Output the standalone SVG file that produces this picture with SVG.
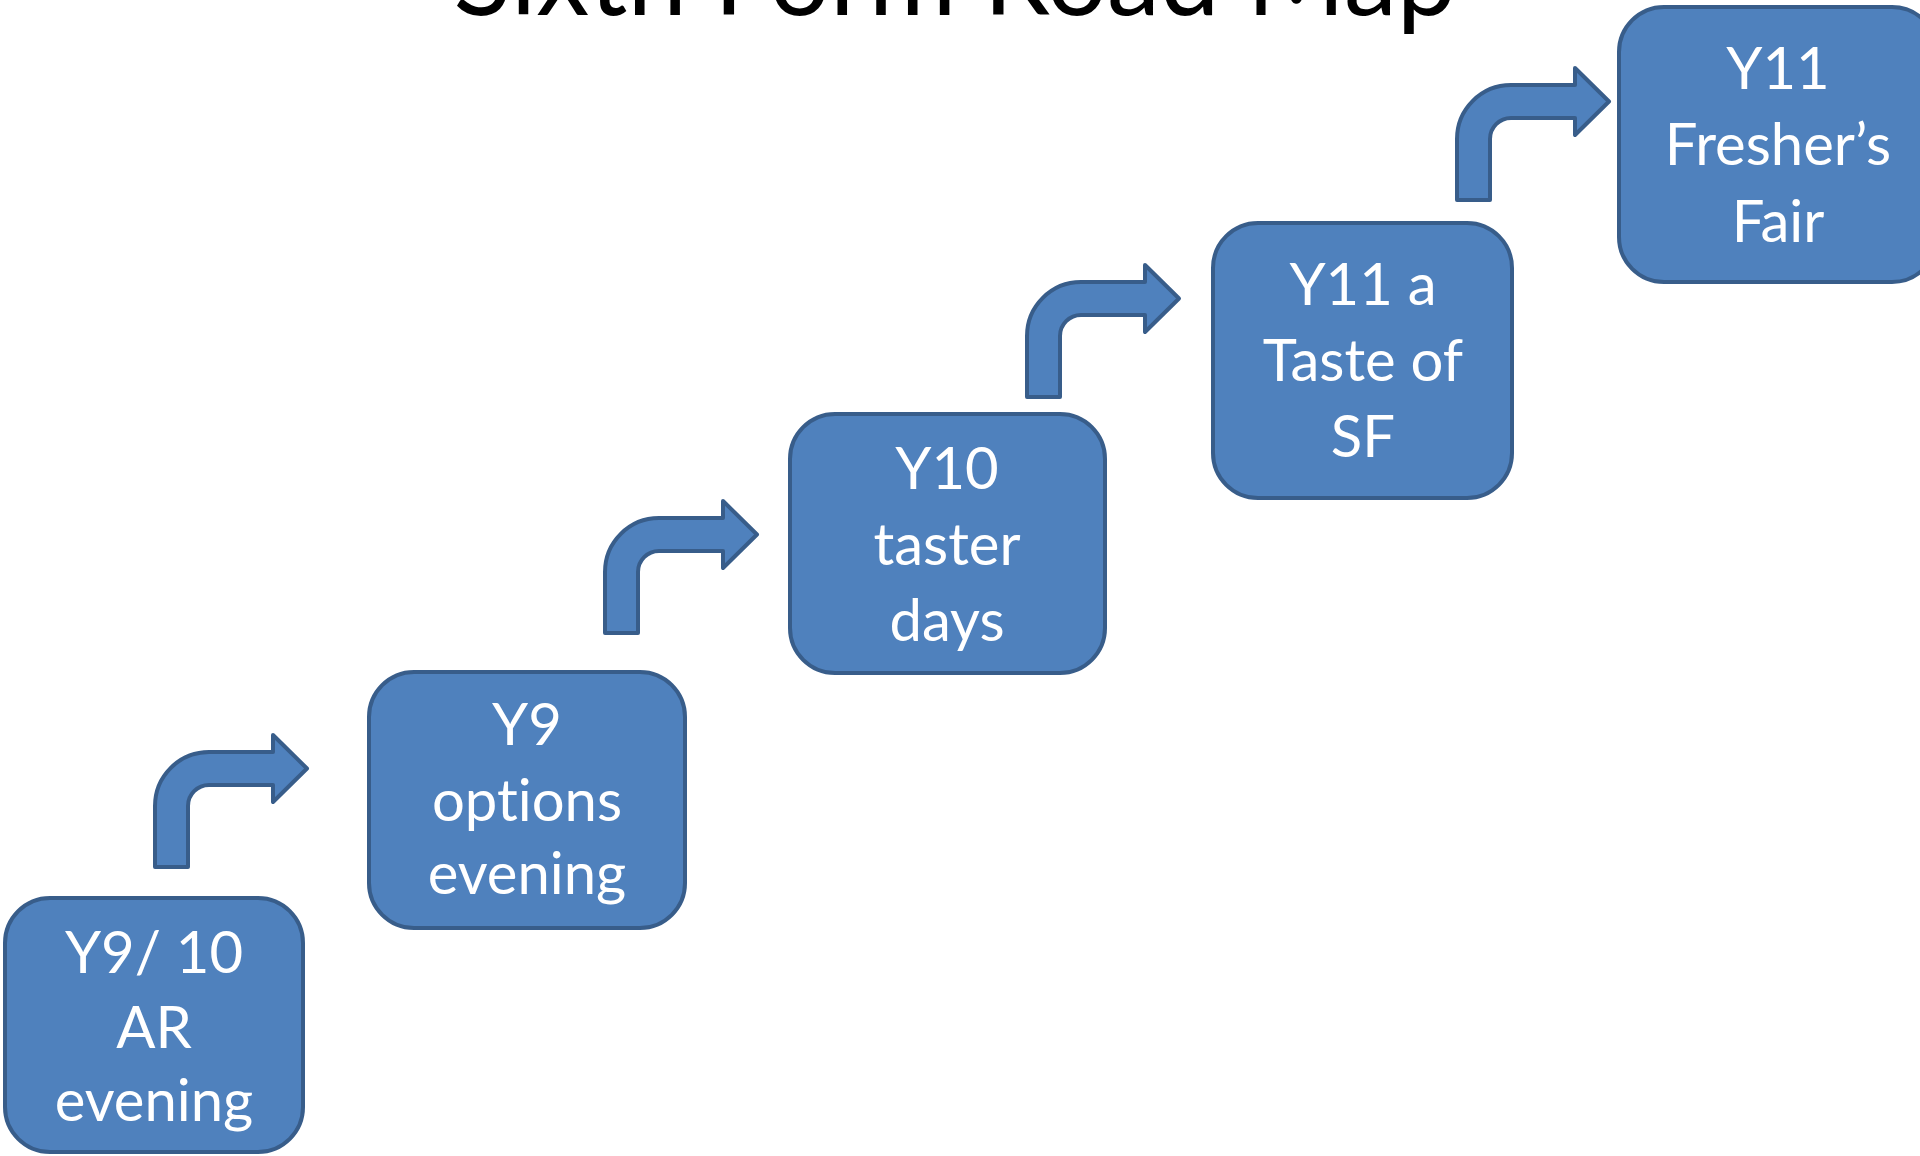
<svg xmlns="http://www.w3.org/2000/svg" width="1920" height="1156" viewBox="0 0 1920 1156">
<style>
.box{fill:#4F81BD;stroke:#385D8A;stroke-width:4}
.arr{fill:#4F81BD;stroke:#385D8A;stroke-width:4;stroke-linejoin:round}
.lbl{font-family:Lato,"Open Sans","Liberation Sans",sans-serif;font-size:58px;fill:#FFFFFF;text-anchor:middle;font-variant-ligatures:none}
.title{font-family:Lato,"Open Sans","Liberation Sans",sans-serif;font-size:108px;fill:#000000;text-anchor:middle;font-variant-ligatures:none}
</style>
<defs>
<path id="bent" class="arr" d="M0,115 L0,54 A54,54 0 0 1 54,0 L118,0 L118,-17 L152,16.5 L118,50 L118,33 L54,33 A21,21 0 0 0 33,54 L33,115 Z"/>
</defs>
<rect width="1920" height="1156" fill="#FFFFFF"/>
<text class="title" x="955" y="15" textLength="1003" lengthAdjust="spacingAndGlyphs">Sixth Form Road Map</text>
<g id="connectors">
<use href="#bent" transform="translate(155,752)"/>
<use href="#bent" transform="translate(605,518)"/>
<use href="#bent" transform="translate(1027,282)"/>
<use href="#bent" transform="translate(1457,85)"/>
</g>
<g id="node1">
<rect class="box" x="5" y="898" width="298" height="254" rx="45" ry="45"/>
<text class="lbl" x="154" y="973">Y9/ 10</text>
<text class="lbl" x="154" y="1048">AR</text>
<text class="lbl" x="154" y="1121">evening</text>
</g>
<g id="node2">
<rect class="box" x="369" y="672" width="316" height="256" rx="45" ry="45"/>
<text class="lbl" x="527" y="745">Y9</text>
<text class="lbl" x="527" y="821">options</text>
<text class="lbl" x="527" y="894">evening</text>
</g>
<g id="node3">
<rect class="box" x="790" y="414" width="315" height="259" rx="45" ry="45"/>
<text class="lbl" x="947" y="489">Y10</text>
<text class="lbl" x="947" y="565">taster</text>
<text class="lbl" x="947" y="641">days</text>
</g>
<g id="node4">
<rect class="box" x="1213" y="223" width="299" height="275" rx="45" ry="45"/>
<text class="lbl" x="1363" y="305">Y11 a</text>
<text class="lbl" x="1363" y="381">Taste of</text>
<text class="lbl" x="1363" y="457">SF</text>
</g>
<g id="node5">
<rect class="box" x="1619" y="7" width="318" height="275" rx="45" ry="45"/>
<text class="lbl" x="1778" y="89">Y11</text>
<text class="lbl" x="1778" y="165">Fresher’s</text>
<text class="lbl" x="1778" y="242">Fair</text>
</g>
</svg>
